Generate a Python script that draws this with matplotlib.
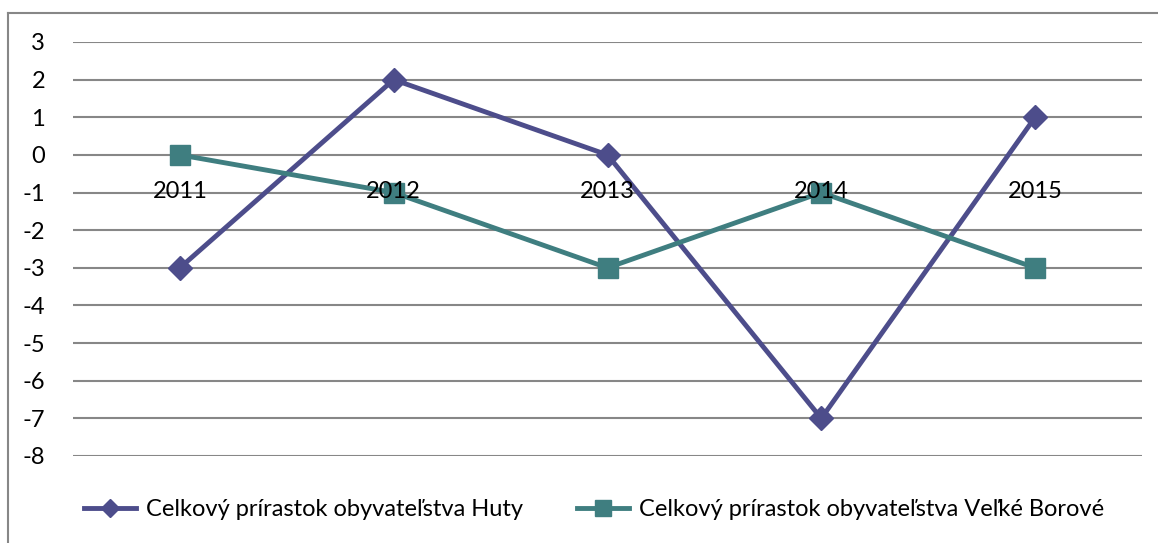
import matplotlib
matplotlib.use("Agg")
import matplotlib.pyplot as plt
from matplotlib.lines import Line2D

years = ["2011", "2012", "2013", "2014", "2015"]
huty = [-3, 2, 0, -7, 1]
borove = [0, -1, -3, -1, -3]
y_ticks = list(range(-8, 4))

label_huty = "Celkový prírastok obyvateľstva Huty"
label_borove = "Celkový prírastok obyvateľstva Veľké Borové"

COLOR_HUTY = "#4D4D8B"
COLOR_BOROVE = "#3F7E80"
GRID = "#878787"

plt.rcParams["font.family"] = ["Lato", "DejaVu Sans"]
plt.rcParams["axes.unicode_minus"] = False

W, H = 1158, 543
fig = plt.figure(figsize=(W / 100, H / 100), dpi=100)
ax = fig.add_axes([73 / W, 1 - 456 / H, (1142 - 73) / W, (456 - 42) / H])

x = list(range(len(years)))
ax.plot(x, huty, color=COLOR_HUTY, lw=3.5, marker="D", ms=12,
        label=label_huty, zorder=3)
ax.plot(x, borove, color=COLOR_BOROVE, lw=3.5, marker="s", ms=14,
        label=label_borove, zorder=4)

ax.set_xlim(-0.5, len(years) - 0.5)
ax.set_ylim(min(y_ticks), max(y_ticks))
ax.set_yticks(y_ticks)
ax.yaxis.grid(True, color=GRID, lw=1.5)
ax.set_axisbelow(True)

# category axis crosses at zero, like the original
ax.spines["bottom"].set_position(("data", 0))
for side in ["top", "right", "left", "bottom"]:
    ax.spines[side].set_visible(False)
ax.set_xticks(x)
ax.set_xticklabels(years)
ax.tick_params(axis="x", length=0, pad=19, labelsize=17)
ax.tick_params(axis="y", length=0, pad=20, labelsize=17)
for lbl in ax.get_xticklabels():
    lbl.set_zorder(6)
ax.xaxis.set_zorder(6)

# chart frame: top and left edges only
fig.add_artist(Line2D([8 / W, 1], [1 - 13 / H, 1 - 13 / H], color=GRID, lw=1.5))
fig.add_artist(Line2D([8 / W, 8 / W], [0, 1 - 13 / H], color=GRID, lw=1.5))

fig.legend(loc="center", bbox_to_anchor=(0.513, 1 - 510 / H), ncol=2,
           frameon=False, fontsize=17, handlelength=2.2, columnspacing=2.3,
           handletextpad=0.42, markerscale=0.8)

fig.savefig("out.png", dpi=100)
